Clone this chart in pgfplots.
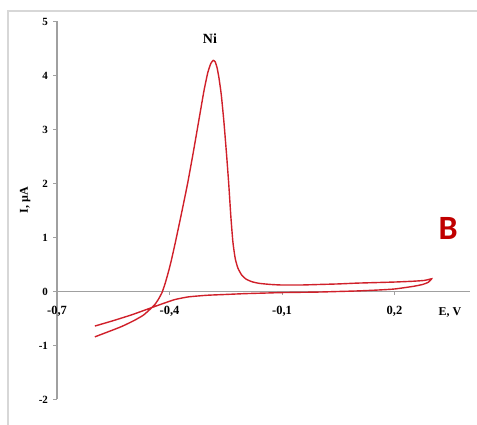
\documentclass[border=0pt]{standalone}
\usepackage{pgfplots}
\pgfplotsset{compat=1.18}
\usepackage{fontspec}
\setmainfont{Liberation Serif}
\newfontfamily\cfont{Carlito}
\definecolor{curve}{RGB}{208,32,42}
\definecolor{axgray}{RGB}{160,160,160}
\definecolor{frame}{RGB}{215,215,215}
\definecolor{bred}{RGB}{192,0,0}
\begin{document}
\begin{tikzpicture}
\begin{axis}[
  x=375pt, y=54pt,
  xmin=-0.7, xmax=0.4, ymin=-2, ymax=5,
  axis x line=middle, axis y line=left,
  axis line style={axgray, line width=1.4pt, -},
  hide obscured x ticks=false, hide obscured y ticks=false,
  xtick={-0.7,-0.4,-0.1,0.2},
  xticklabels={{-0,7},{-0,4},{-0,1},{0,2}},
  ytick={-2,-1,0,1,2,3,4,5},
  yticklabels={{-2},{-1},{0},{1},{2},{3},{4},{5}},
  tick style={axgray, line width=0.8pt},
  major tick length=3.5pt,
  tick align=outside,
  xticklabel style={font=\bfseries\fontsize{12.5}{13}\selectfont, yshift=-8pt},
  yticklabel style={font=\bfseries\fontsize{11}{12}\selectfont, xshift=-2pt},
  clip=false,
]
\addplot[curve, line width=1.4pt, smooth, tension=0.3] coordinates {
(-0.599,-0.84) (-0.565,-0.75) (-0.528,-0.65) (-0.495,-0.54) (-0.470,-0.44)
(-0.452,-0.33) (-0.440,-0.25) (-0.430,-0.15) (-0.420,-0.02) (-0.412,0.14)
(-0.403,0.36) (-0.395,0.58) (-0.385,0.89) (-0.370,1.38) (-0.352,1.99) (-0.337,2.56)
(-0.321,3.20) (-0.308,3.72) (-0.298,4.05) (-0.290,4.22) (-0.2835,4.28)
(-0.278,4.25) (-0.273,4.14) (-0.268,3.95) (-0.262,3.65) (-0.255,3.15)
(-0.248,2.55) (-0.242,1.99) (-0.2365,1.40) (-0.231,0.92) (-0.225,0.62)
(-0.218,0.44) (-0.208,0.31) (-0.196,0.23) (-0.18,0.18) (-0.16,0.15)
(-0.13,0.13) (-0.1,0.12) (-0.05,0.12) (0.0,0.13) (0.05,0.14) (0.1,0.155)
(0.15,0.165) (0.2,0.175) (0.25,0.19) (0.28,0.205) (0.299,0.235)
(0.29,0.17) (0.275,0.13) (0.25,0.095) (0.2,0.046) (0.15,0.025) (0.1,0.01)
(0.05,0.0) (0.0,-0.01) (-0.05,-0.015) (-0.1,-0.02) (-0.15,-0.03) (-0.2,-0.04)
(-0.25,-0.055) (-0.3,-0.07) (-0.35,-0.10) (-0.386,-0.15) (-0.42,-0.23)
(-0.452,-0.31) (-0.5,-0.43) (-0.55,-0.54) (-0.599,-0.64)
};
\node[font=\bfseries\fontsize{14}{14}\selectfont] at (axis cs:-0.292,4.69) {Ni};
\node[font=\bfseries\fontsize{12}{12}\selectfont] at (axis cs:0.348,-0.38) {E, V};
\node[font=\bfseries\fontsize{12}{12}\selectfont, rotate=90] at (axis cs:-0.785,1.69) {I, µA};
\node[font=\cfont\bfseries\fontsize{34}{34}\selectfont, text=bred] at (axis cs:0.343,1.16) {B};
\coordinate (bl) at (axis cs:-0.852,-2.472);
\coordinate (tr) at (axis cs:0.42,5.398);
\coordinate (fl) at (axis cs:-0.8307,5.194);
\end{axis}
\pgfresetboundingbox
\path[use as bounding box] (bl) rectangle (tr);
\draw[frame, line width=1.6pt] (fl |- bl) -- (fl) -- (fl -| tr);
\end{tikzpicture}
\end{document}
